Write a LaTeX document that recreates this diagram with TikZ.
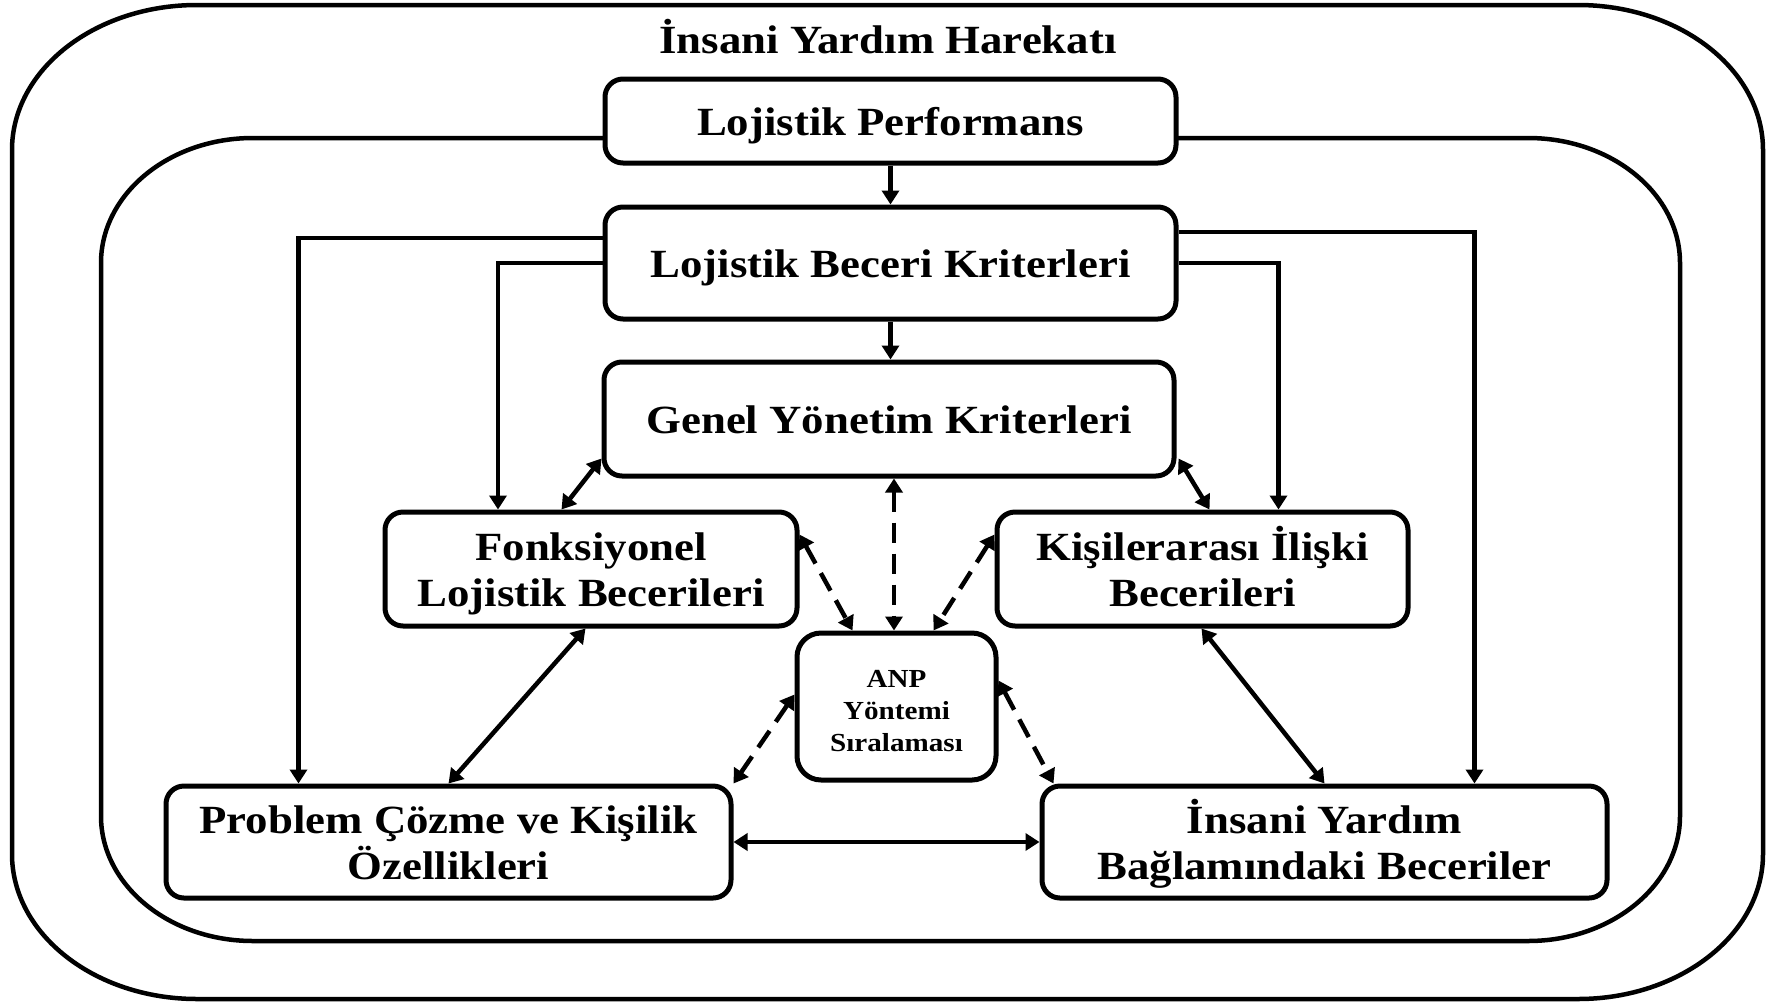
\documentclass[tikz,border=0pt]{standalone}
\usepackage{fontspec}
\setmainfont{Liberation Serif}[FakeStretch=1.12]
\usetikzlibrary{arrows.meta,calc}
% lines of a multi-line label with fixed vertical metrics
\newcommand\toprow[2]{\rule{0pt}{#1}\smash{#2}}
\newcommand\nextrow[1]{\smash{#1}}

\begin{document}
\begin{tikzpicture}[x=1pt,y=-1pt,
  frame/.style={line width=4.5pt},
  box/.style={draw, line width=5pt, rounded corners=18pt, fill=white,
    inner sep=0pt, align=center,
    font=\bfseries\fontsize{40}{46}\selectfont},
  oneline/.style={box, text height=28pt, text depth=0pt},
  smallbox/.style={box, rounded corners=24pt,
    font=\bfseries\fontsize{26}{32}\selectfont},
  tip/.tip={Triangle[width=17pt,length=14pt]},
  arr/.style={line width=4.5pt, -tip},
  biarr/.style={line width=4.5pt, tip-tip},
  dashedarr/.style={biarr, dash pattern=on 20pt off 11pt}
]
\useasboundingbox (0,0) rectangle (1773,1005);

% outer frame: the operation as a whole
\draw[frame] (197,5) -- (1578,5)
  .. controls (1680.2,5) and (1763,69.9) .. (1763,150) -- (1763,854)
  .. controls (1763,934.1) and (1680.2,999) .. (1578,999) -- (197,999)
  .. controls (94.8,999) and (12,934.1) .. (12,854) -- (12,150)
  .. controls (12,69.9) and (94.8,5) .. (197,5) -- cycle;

% inner frame: logistics performance
\draw[frame] (253,138) -- (1528,138)
  .. controls (1612,138) and (1680,194) .. (1680,263) -- (1680,816)
  .. controls (1680,885) and (1612,941) .. (1528,941) -- (253,941)
  .. controls (169,941) and (101,885) .. (101,816) -- (101,263)
  .. controls (101,194) and (169,138) .. (253,138) -- cycle;

\node[anchor=base, font=\bfseries\fontsize{40}{46}\selectfont] (title) at (888,53) {İnsani Yardım Harekatı};

% criteria boxes
\node[oneline, minimum width=571pt, minimum height=84pt]  (lp)   at (890.5,121) {Lojistik Performans};
\node[oneline, minimum width=571pt, minimum height=112pt] (lbk)  at (890.5,263) {Lojistik Beceri Kriterleri};
\node[oneline, minimum width=570pt, minimum height=114pt] (gyk)  at (889,419)   {Genel Yönetim Kriterleri};
\node[box, minimum width=412pt, minimum height=114pt] (fonk) at (591,569)
  {\toprow{28pt}{Fonksiyonel}\\\nextrow{Lojistik Becerileri}};
\node[box, minimum width=411pt, minimum height=114pt] (kisi) at (1202.5,569)
  {\toprow{28pt}{Kişilerarası İlişki}\\\nextrow{Becerileri}};
\node[smallbox, minimum width=199pt, minimum height=147pt] (anp) at (896.5,706.5)
  {\toprow{25pt}{ANP}\\\nextrow{Yöntemi}\\\nextrow{Sıralaması}};
\node[box, minimum width=565pt, minimum height=112pt] (prob) at (448.5,842)
  {\toprow{28pt}{Problem Çözme ve Kişilik}\\\nextrow{Özellikleri}};
\node[box, minimum width=565pt, minimum height=112pt] (ins)  at (1324.5,842)
  {\toprow{28pt}{İnsani Yardım}\\\nextrow{Bağlamındaki Beceriler}};

% hierarchy
\draw[arr] (lp.south) -- (lp.south |- lbk.north);
\draw[arr] (lbk.south) -- (lbk.south |- gyk.north);
\draw[arr] ($(lbk.west)+(0,-25)$) -| ($(prob.north)+(-150,0)$);
\draw[arr] (lbk.west) -| ($(fonk.north)+(-93,0)$);
\draw[arr] ($(lbk.east)+(0,-31)$) -| ($(ins.north)+(150,0)$);
\draw[arr] (lbk.east) -| ($(kisi.north)+(76,0)$);

% interactions between skill groups
\draw[biarr] ($(gyk.south west)+(0,-20)$) -- ($(fonk.north west)+(179,0)$);
\draw[biarr] ($(gyk.south east)+(2,-20)$) -- ($(kisi.north west)+(215,0)$);
\draw[biarr] ($(fonk.south west)+(203,0)$) -- (prob.north);
\draw[biarr] ($(kisi.south west)+(207,0)$) -- (ins.north);
\draw[biarr] (prob.east) -- (ins.west);

% links to the ANP ranking
\draw[dashedarr] ($(gyk.south)+(5,0)$) -- ($(anp.north)+(-2.5,0)$);
\draw[dashedarr] ($(fonk.north east)+(0,25)$) -- ($(anp.north west)+(58,0)$);
\draw[dashedarr] ($(kisi.north west)+(0,25)$) -- ($(anp.north west)+(139,0)$);
\draw[dashedarr] ($(anp.south west)+(0,-88)$) -- (prob.north east);
\draw[dashedarr] ($(anp.north east)+(0,50)$) -- ($(ins.north west)+(14,0)$);
\end{tikzpicture}
\end{document}
